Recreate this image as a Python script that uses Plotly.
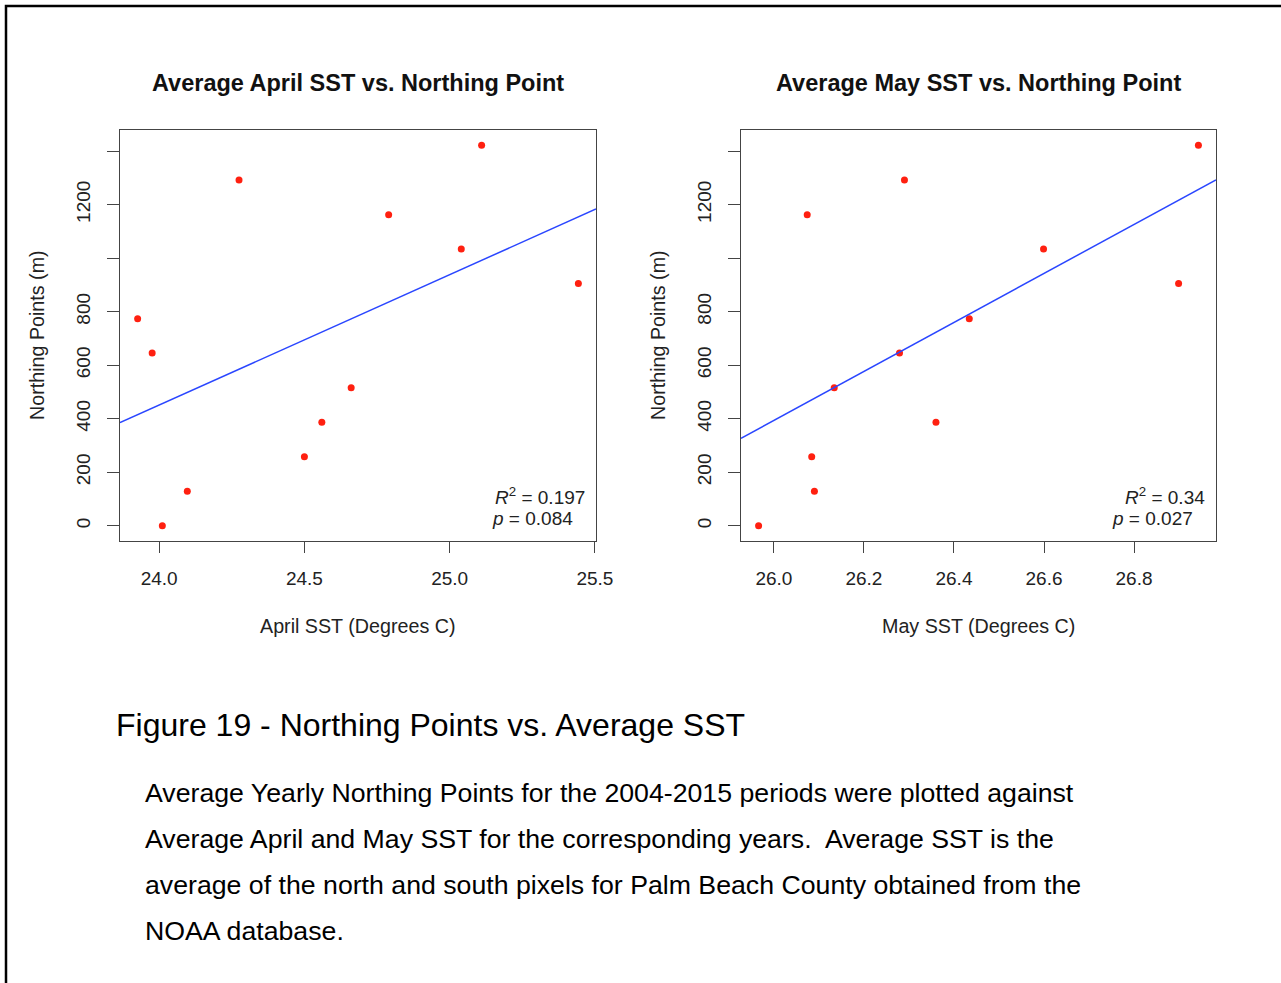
import numpy as np
import plotly.graph_objects as go

# ---- data ----
northing = [0, 129, 258, 387, 516, 646, 774, 905, 1034, 1162, 1292, 1422]
april_sst = [24.011, 24.097, 24.500, 24.560, 24.661, 23.976, 23.926, 25.443, 25.040, 24.790, 24.275, 25.110]
may_sst = [25.966, 26.090, 26.084, 26.360, 26.134, 26.279, 26.434, 26.899, 26.599, 26.074, 26.290, 26.943]

april_ticks = [24.0, 24.5, 25.0, 25.5]
may_ticks = [26.0, 26.2, 26.4, 26.6, 26.8]
y_ticks = [0, 200, 400, 600, 800, 1000, 1200, 1400]
y_ticklabels = ["0", "200", "400", "600", "800", "", "1200", ""]

april_r2 = "<i>R</i><sup>2</sup> = 0.197"
april_p = "<i>p</i> = 0.084"
may_r2 = "<i>R</i><sup>2</sup> = 0.34"
may_p = "<i>p</i> = 0.027"

caption = "Figure 19 - Northing Points vs. Average SST"
paragraph = [
    "Average Yearly Northing Points for the 2004-2015 periods were plotted against",
    "Average April and May SST for the corresponding years.  Average SST is the",
    "average of the north and south pixels for Palm Beach County obtained from the",
    "NOAA database.",
]

W, H = 1281, 983
FONT = "Liberation Sans, Arial, Helvetica, sans-serif"


def px(x):
    return x / W


def py(y):
    return 1 - y / H


def r_range(vals):
    lo, hi = min(vals), max(vals)
    d = (hi - lo) * 0.04
    return [lo - d, hi + d]


fig = go.Figure()

panels = [
    dict(x=april_sst, xa="x", ya="y", dom=(120, 596), ticks=april_ticks, fmt=".1f"),
    dict(x=may_sst, xa="x2", ya="y2", dom=(741, 1216), ticks=may_ticks, fmt=".1f"),
]

yr = r_range(northing)

for i, p in enumerate(panels):
    xr = r_range(p["x"])
    fig.add_trace(go.Scatter(
        x=p["x"], y=northing, mode="markers", xaxis=p["xa"], yaxis=p["ya"],
        marker=dict(color="#ff2010", size=7, line=dict(width=0)), showlegend=False,
    ))
    b, a = np.polyfit(p["x"], northing, 1)
    lx = np.array(xr)
    fig.add_trace(go.Scatter(
        x=lx, y=a + b * lx, mode="lines", xaxis=p["xa"], yaxis=p["ya"],
        line=dict(color="#2a46ff", width=1.5), showlegend=False, cliponaxis=True,
    ))
    sfx = "" if i == 0 else str(i + 1)
    axstyle = dict(showline=True, mirror=True, linecolor="#444", linewidth=1,
                   ticks="outside", tickcolor="#444", tickwidth=1,
                   showgrid=False, zeroline=False, automargin=False,
                   tickfont=dict(family=FONT, size=19, color="#222"))
    fig.layout["xaxis" + sfx] = dict(
        domain=[px(p["dom"][0]), px(p["dom"][1])], range=xr, anchor="y" + sfx,
        tickvals=p["ticks"], ticktext=[format(t, p["fmt"]) for t in p["ticks"]],
        ticklen=11, ticklabelstandoff=9, **axstyle)
    fig.layout["yaxis" + sfx] = dict(
        domain=[py(541), py(130)], range=yr, anchor="x" + sfx,
        tickvals=y_ticks, ticktext=y_ticklabels, tickangle=-90,
        ticklen=12, ticklabelstandoff=9, **axstyle)

annotations = []
titles = [
    ("Average April SST vs. Northing Point", 358, "April SST (Degrees C)", 37, april_r2, april_p, 587),
    ("Average May SST vs. Northing Point", 978, "May SST (Degrees C)", 658, may_r2, may_p, 1207),
]
for t, cx, xt, ytx, r2, pv, sx in titles:
    annotations.append(dict(text="<b>" + t + "</b>", x=px(cx), y=py(83), xref="paper", yref="paper",
                            xanchor="center", yanchor="middle", showarrow=False,
                            font=dict(family=FONT, size=23.5, color="#111")))
    annotations.append(dict(text=xt, x=px(cx), y=py(626), xref="paper", yref="paper",
                            xanchor="center", yanchor="middle", showarrow=False,
                            font=dict(family=FONT, size=19.7, color="#222")))
    annotations.append(dict(text="Northing Points (m)", x=px(ytx), y=py(335), xref="paper", yref="paper",
                            xanchor="center", yanchor="middle", showarrow=False, textangle=-90,
                            font=dict(family=FONT, size=19.7, color="#222")))
    annotations.append(dict(text=r2, x=px(sx), y=py(496), xref="paper", yref="paper",
                            xanchor="right", yanchor="middle", align="right", showarrow=False,
                            font=dict(family=FONT, size=19, color="#222")))
    annotations.append(dict(text=pv, x=px(sx - 12), y=py(518), xref="paper", yref="paper",
                            xanchor="right", yanchor="middle", align="right", showarrow=False,
                            font=dict(family=FONT, size=19, color="#222")))

annotations.append(dict(text=caption, x=px(114), y=py(725), xref="paper", yref="paper",
                        xanchor="left", yanchor="middle", showarrow=False,
                        font=dict(family=FONT, size=32, color="#000")))
for k, line in enumerate(paragraph):
    annotations.append(dict(text=line, x=px(143), y=py(793 + 46 * k), xref="paper", yref="paper",
                            xanchor="left", yanchor="middle", showarrow=False,
                            font=dict(family=FONT, size=26.7, color="#000")))

fig.update_layout(
    width=W, height=H, margin=dict(l=0, r=0, t=0, b=0, autoexpand=False),
    paper_bgcolor="white", plot_bgcolor="white",
    annotations=annotations,
    shapes=[dict(type="path", xref="paper", yref="paper",
                 path=f"M {px(6)},{py(990)} L {px(6)},{py(6)} L {px(1290)},{py(6)}",
                 line=dict(color="black", width=2.5))],
)

fig.write_html("out.html")
